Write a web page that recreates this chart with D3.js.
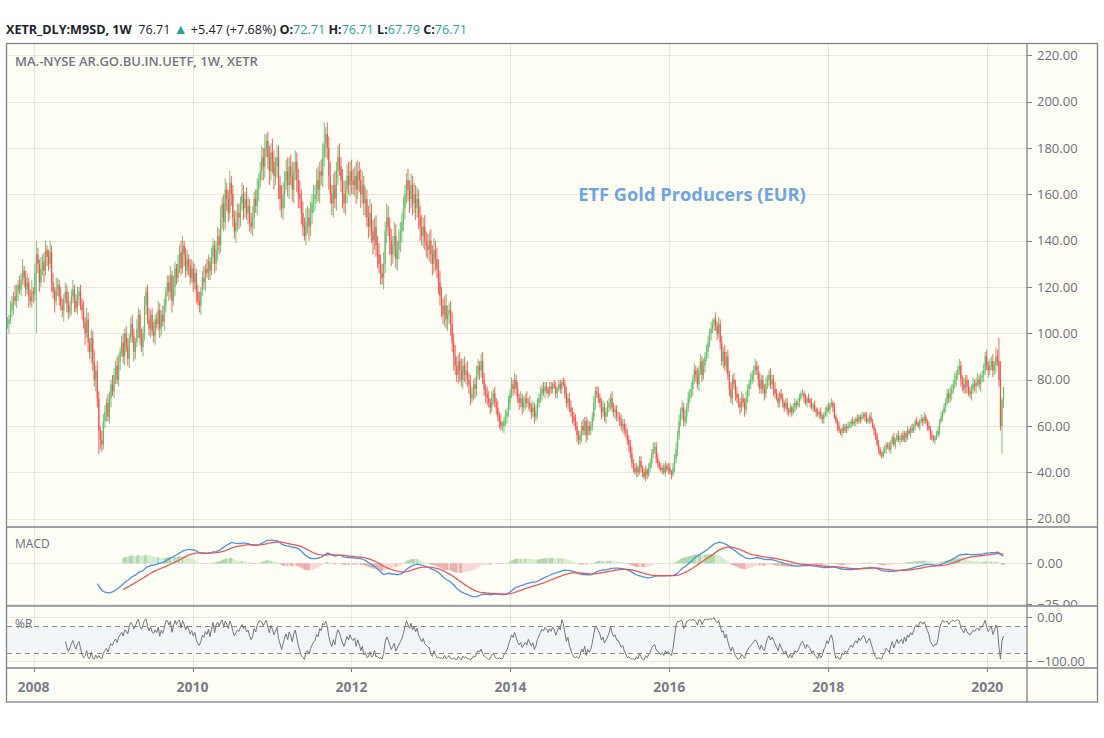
<!DOCTYPE html>
<html><head><meta charset="utf-8">
<script src="https://cdn.jsdelivr.net/npm/d3@7"></script>
<style>html,body{margin:0;padding:0;background:#fff;}svg{display:block;font-family:"Open Sans",sans-serif;}</style>
</head><body><svg id="c" width="1104" height="738"></svg>
<script>
// ---------------- DATA ----------------
const firstWeek = "2007-09-03";      // Monday of the first weekly bar
const macdFrom = "2007-09-03";       // MACD computed from this bar on
const wrFrom = "2007-11-05";         // %R computed from this bar on
const closes = [
104,106,110,113,116,114,118,121,119,123,127,124,119,122,116,114,118,117,
126,134,130,122,128,131,127,136,133,130,135,
122,118,114,119,121,116,112,110,115,118,113,109,112,116,119,114,111,116,118,112,
110,105,100,106,96,92,98,88,80,84,72,58,54,52,62,
66,70,64,72,78,75,82,86,80,88,92,
96,90,100,94,89,98,104,99,92,96,102,108,98,94,100,
112,118,106,102,108,101,99,106,104,110,102,108,105,112,118,122,
118,125,114,120,128,124,130,135,128,138,134,127,132,129,124,128,
122,126,118,114,112,118,124,122,128,126,131,127,133,138,130,136,
142,138,150,156,148,162,158,152,165,160,150,144,148,152,
150,156,160,154,158,152,155,148,146,150,158,155,162,166,170,
176,172,180,183,176,170,178,174,168,172,176,
164,158,154,160,166,170,164,172,168,162,170,174,166,160,158,
152,146,142,148,150,146,152,156,158,
160,166,162,170,168,176,182,186,180,
168,160,156,164,158,170,176,172,166,160,156,162,168,164,170,166,
164,168,162,170,166,160,164,156,158,150,146,152,144,140,146,138,134,130,126,
124,130,144,150,146,140,134,138,142,132,136,140,144,
148,154,160,166,162,158,164,156,160,154,158,150,146,
142,146,140,138,136,140,134,130,136,132,128,
122,116,112,108,112,106,108,110,104,96,90,
86,82,88,84,80,86,82,84,80,
78,72,74,78,76,82,86,84,88,80,76,74,72,
70,68,72,74,70,68,64,62,60,60,
62,64,66,70,74,78,76,80,76,72,70,72,68,70,72,70,
70,68,66,68,64,66,70,72,74,76,75,77,
76,74,77,76,78,77,74,76,78,76,79,78,
74,70,72,68,66,64,62,60,56,54,
56,60,58,62,56,60,58,60,
64,70,75,74,72,
70,66,68,64,66,68,70,72,68,66,67,64,
64,62,60,61,58,57,54,52,48,44,42,
40,42,40,45,42,40,38,41,39,42,44,
48,50,51,46,44,42,
41,42,40,43,41,42,40,39,42,
46,50,56,62,66,68,62,64,68,72,74,
76,80,84,82,78,84,88,82,86,90,92,
96,100,102,104,106,103,100,104,96,88,92,86,90,
82,76,72,80,78,74,72,
70,68,72,70,67,72,76,
78,80,82,84,86,84,80,76,80,
76,74,78,80,82,78,80,76,74,
72,70,74,72,70,68,70,67,66,
68,66,68,70,69,70,72,74,
74,72,70,72,71,70,68,69,67,66,65,66,64,63,
65,66,68,67,69,70,68,64,
62,60,58,57,59,58,60,59,60,61,62,61,62,
63,62,64,63,64,65,64,62,63,64,62,60,58,
56,52,50,48,47,49,
50,52,51,50,53,55,52,54,56,54,55,
56,54,57,55,58,57,59,58,60,62,61,60,62,
63,62,64,62,60,59,
56,55,54,55,56,
58,62,64,66,68,70,74,
72,74,76,78,80,82,84,86,80,
78,76,80,77,75,74,76,78,77,79,80,78,81,
82,84,90,86,84,86,88,84,86,90,88,
80,60,71.24,76.71
];
// extension of the high above the body, per week
const wickUp = [
3,2,4,3,2,5,3,2,4,3,5,2,3,4,2,3,5,2,
4,6,3,2,5,3,4,4,2,3,5,
3,4,2,5,3,2,4,3,2,4,3,5,2,3,4,2,3,4,2,3,
3,4,2,5,3,2,4,3,5,2,4,3,2,4,3,
3,2,4,3,2,4,3,2,4,3,2,
3,4,2,3,4,2,3,4,3,2,4,3,2,4,3,
4,2,3,5,2,3,4,2,3,4,3,2,4,3,2,3,
3,4,2,5,3,2,4,3,5,4,2,3,4,2,3,4,
3,4,2,3,4,2,3,5,2,4,3,2,4,3,2,4,
4,3,5,3,4,5,3,4,5,3,4,3,5,4,
4,3,5,4,3,5,4,3,4,5,3,4,5,3,4,
5,4,6,3,4,5,4,6,5,4,5,
5,4,6,5,4,5,6,4,5,6,4,5,4,5,6,
4,5,4,6,5,4,5,4,6,
4,5,6,4,5,6,9,3,5,
5,6,4,5,6,4,5,6,4,5,6,4,5,6,4,5,
5,4,6,5,4,5,6,4,5,4,5,6,4,5,4,5,4,5,4,
4,5,4,6,5,4,5,4,6,5,4,5,4,
4,5,4,3,5,4,5,4,5,4,5,4,5,
5,4,5,4,5,4,5,4,5,4,5,
4,5,4,3,4,5,4,3,4,5,4,
5,4,3,4,5,3,4,3,4,
3,4,3,2,3,4,3,2,3,4,3,2,3,
3,2,3,2,3,2,3,2,3,2,
2,3,2,3,2,3,2,3,2,3,2,3,2,3,2,3,
2,3,2,3,2,3,2,2,3,2,3,2,
2,1,2,2,1,2,2,1,2,2,1,2,
2,3,2,2,3,2,2,3,2,2,
2,2,3,2,2,3,2,2,
2,3,2,2,3,
2,2,3,2,2,3,2,2,3,2,2,2,
2,2,3,2,2,3,2,2,2,3,2,
2,2,1,2,2,1,2,2,1,2,2,
2,3,2,2,2,1,
2,1,2,2,1,2,2,1,2,
2,3,2,3,2,3,2,3,2,3,2,
3,2,3,2,3,2,3,2,3,2,3,
3,2,3,2,1,3,2,3,2,3,2,3,2,
3,2,3,2,3,2,3,
2,2,3,2,2,3,2,
2,3,2,2,3,2,2,3,2,
2,2,3,2,2,3,2,2,3,
2,2,1,2,2,1,2,2,1,
2,1,2,2,1,2,2,1,
2,1,2,1,2,1,2,1,2,1,2,1,2,1,
1,2,1,2,1,2,1,2,
1,1,2,1,1,2,1,1,2,1,1,2,1,
1,2,1,1,2,1,1,2,1,1,2,1,1,
1,1,2,1,1,2,
2,1,1,2,1,1,2,1,1,2,1,
1,2,1,1,2,1,1,2,1,1,2,1,1,
2,1,2,1,1,2,
1,2,1,1,2,
2,1,2,1,2,2,2,
2,3,2,2,3,2,2,3,2,
2,3,2,2,3,2,2,3,2,2,3,2,2,
2,3,2,3,2,3,2,3,2,4,3,
10,8,1,0
];
// extension of the low below the body, per week
const wickDown = [
2,4,2,3,5,2,3,4,2,3,2,4,3,2,5,2,3,4,
3,26,4,4,2,3,5,2,4,3,2,
4,3,5,2,3,4,2,3,5,2,4,3,2,4,3,5,2,3,4,2,
4,3,5,2,4,3,5,4,3,5,4,10,4,3,2,
3,4,2,3,4,2,3,4,2,3,4,
2,3,4,2,3,4,2,3,4,3,2,4,3,2,4,
3,4,2,3,4,2,3,4,2,3,4,3,2,4,3,2,
4,3,5,2,4,3,2,4,3,2,5,3,2,4,3,2,
4,3,5,2,3,4,2,3,4,2,3,4,2,3,4,3,
5,4,3,5,4,3,5,4,3,5,4,3,5,4,
5,4,3,5,4,3,5,4,3,4,5,3,4,5,3,
4,6,5,4,5,6,4,5,6,4,5,
6,5,4,5,6,4,5,6,4,5,6,4,5,6,4,
5,4,2,4,5,6,4,5,4,
5,4,5,6,4,5,4,6,5,
6,4,5,6,4,5,6,4,5,6,4,5,6,4,5,6,
4,5,6,4,5,6,4,5,6,4,5,4,5,6,4,5,6,4,5,
3,5,4,5,4,6,5,4,5,4,5,4,5,
5,4,5,4,5,6,4,5,4,5,4,5,6,
4,5,4,5,4,5,4,5,4,5,4,
5,4,5,4,5,4,5,4,5,4,6,
4,3,4,5,3,4,3,4,3,
4,3,2,3,4,3,2,4,3,2,3,4,3,
2,3,2,3,2,3,2,3,2,2,
3,2,3,2,3,2,3,2,3,2,3,2,3,2,3,2,
3,2,3,2,3,2,3,2,2,3,2,3,
2,2,1,2,2,1,2,2,1,2,2,1,
2,2,3,2,2,3,2,2,3,2,
2,3,2,2,3,2,2,2,
2,2,3,2,2,
2,3,2,2,3,2,2,3,2,2,3,2,
2,2,2,3,2,2,2,3,2,2,2,
1,2,2,1,2,2,1,2,2,1,2,
2,2,2,2,2,1,
1,2,1,2,1,2,1,2,1,
2,2,3,2,2,3,2,2,3,2,2,
2,3,2,3,2,3,2,3,2,3,2,
3,2,3,2,3,2,3,2,3,2,3,2,3,
2,3,2,3,2,3,2,
2,3,2,2,3,2,2,
3,2,2,3,2,2,3,2,2,
2,3,2,2,3,2,2,3,2,
1,2,2,1,2,2,1,2,2,
1,2,1,2,2,1,2,1,
1,2,1,2,1,2,1,2,1,2,1,2,1,2,
2,1,2,1,2,1,2,1,
1,2,1,1,2,1,1,2,1,1,2,1,1,
2,1,1,2,1,1,2,1,1,2,1,1,2,
2,1,2,1,1,1,
1,2,1,1,2,1,1,2,1,1,2,
2,1,1,2,1,1,2,1,1,2,1,1,2,
1,2,1,1,2,1,
2,1,1,2,1,
1,2,1,2,1,2,1,
2,2,3,2,2,3,2,2,3,
3,2,2,3,2,2,3,2,2,3,2,2,3,
2,3,2,2,3,2,2,3,2,3,2,
3,2,12,3.45
];
const priceTicks = [20,40,60,80,100,120,140,160,180,200,220];
const macdTicks = [0,-25];
const wrTicks = [0,-100];
const wrLevels = [-20,-80];
const macdFast = 26, macdSlow = 60, macdSignal = 18;
const wrLength = 30;
const headerSymbol = "XETR_DLY:M9SD, 1W";
const headerLast = "76.71";
const headerChange = "+5.47 (+7.68%)";
const ohlcLabels = ["O:","H:","L:","C:"];
const ohlcValues = ["72.71","76.71","67.79","76.71"];
const legendText = "MA.-NYSE AR.GO.BU.IN.UETF, 1W, XETR";
const titleText = "ETF Gold Producers (EUR)";

// ---------------- LAYOUT ----------------
const svg = d3.select("#c");
const L = 7, R = 1027, FR = 1097.5, FT = 43.5, FB = 702;
const P = {t: 43.5, b: 527}, M = {t: 527, b: 606}, WRp = {t: 606, b: 668};
const C = {bg:"#fffef5", grid:"#e7e7e4", border:"#7f828b", text:"#6d707a", dark:"#1e222d",
  teal:"#26a69a", up:"#66bb6a", down:"#ef5350", blue:"#4893e6", sig:"#e8585a"};

const DAY = 864e5;
const t0 = new Date(firstWeek + "T00:00:00Z");
const bars = closes.map((c, i) => {
  const o = i ? closes[i-1] : c;
  return {date: new Date(+t0 + i*7*DAY), o, c,
    h: Math.max(o, c) + wickUp[i], l: Math.min(o, c) - wickDown[i]};
});

const x = d3.scaleUtc().domain([new Date(Date.UTC(2007,8,1)), new Date(Date.UTC(2020,6,2))]).range([L, R]);
const y = d3.scaleLinear().domain([20,220]).range([518.7,55.3]);
const ym = d3.scaleLinear().domain([-25,0]).range([604,563.3]);
const yw = d3.scaleLinear().domain([-100,0]).range([661.3,617.3]);

// ---------------- INDICATORS ----------------
const kM = bars.findIndex(b => b.date >= new Date(macdFrom + "T00:00:00Z"));
const kW = bars.findIndex(b => b.date >= new Date(wrFrom + "T00:00:00Z"));
function ema(arr, n) {
  const out = arr.map(() => null); let s = 0, cnt = 0, prev = null; const a = 2/(n+1);
  arr.forEach((v, i) => {
    if (v == null) return;
    if (prev === null) { s += v; cnt++; if (cnt === n) { prev = s/n; out[i] = prev; } }
    else { prev = a*v + (1-a)*prev; out[i] = prev; }
  });
  return out;
}
const src = bars.map((b, i) => i >= kM ? b.c : null);
const ef = ema(src, macdFast), es = ema(src, macdSlow);
const macd = bars.map((b, i) => (ef[i] != null && es[i] != null) ? ef[i] - es[i] : null);
const sig = ema(macd, macdSignal);
const hist = bars.map((b, i) => (macd[i] != null && sig[i] != null) ? macd[i] - sig[i] : null);
const wr = bars.map((b, i) => {
  if (i < kW + wrLength - 1) return null;
  const win = bars.slice(i - wrLength + 1, i + 1);
  const hh = d3.max(win, d => d.h), ll = d3.min(win, d => d.l);
  return (hh - b.c) / (hh - ll) * -100;
});

// ---------------- FRAME ----------------
svg.append("rect").attr("x", 6.5).attr("y", FT).attr("width", FR - 6.5).attr("height", FB - FT).attr("fill", C.bg);
const defs = svg.append("defs");
[["cp", P], ["cm", M], ["cw", WRp]].forEach(([id, p]) => {
  defs.append("clipPath").attr("id", id).append("rect").attr("x", L).attr("y", p.t).attr("width", R - L).attr("height", p.b - p.t);
  defs.append("clipPath").attr("id", id + "a").append("rect").attr("x", R).attr("y", p.t + 1).attr("width", FR - R).attr("height", p.b - p.t - 1);
});

const years = x.ticks(d3.utcYear.every(2));
svg.append("g").selectAll("line").data(years).join("line")
  .attr("x1", d => Math.round(x(d)) + 0.5).attr("x2", d => Math.round(x(d)) + 0.5)
  .attr("y1", FT).attr("y2", WRp.b).attr("stroke", C.grid);
svg.append("g").selectAll("line").data(priceTicks).join("line")
  .attr("x1", L).attr("x2", R).attr("y1", d => Math.round(y(d)) + 0.5).attr("y2", d => Math.round(y(d)) + 0.5).attr("stroke", C.grid);
svg.append("g").attr("clip-path", "url(#cm)").selectAll("line").data(macdTicks).join("line")
  .attr("x1", L).attr("x2", R).attr("y1", d => Math.round(ym(d)) + 0.5).attr("y2", d => Math.round(ym(d)) + 0.5).attr("stroke", C.grid);
svg.append("g").selectAll("line").data(wrTicks).join("line")
  .attr("x1", L).attr("x2", R).attr("y1", d => Math.round(yw(d)) + 0.5).attr("y2", d => Math.round(yw(d)) + 0.5).attr("stroke", C.grid);

// ---------------- CANDLES ----------------
const gc = svg.append("g").attr("clip-path", "url(#cp)");
gc.selectAll("line").data(bars).join("line")
  .attr("x1", d => x(d.date)).attr("x2", d => x(d.date))
  .attr("y1", d => y(d.h)).attr("y2", d => y(d.l))
  .attr("stroke", d => d.c >= d.o ? C.up : C.down).attr("stroke-width", 0.9);
gc.selectAll("rect").data(bars).join("rect")
  .attr("x", d => x(d.date) - 0.6).attr("width", 1.2)
  .attr("y", d => y(Math.max(d.o, d.c))).attr("height", d => Math.max(0.8, Math.abs(y(d.o) - y(d.c))))
  .attr("fill", d => d.c >= d.o ? C.up : C.down);

// ---------------- MACD ----------------
const gm = svg.append("g").attr("clip-path", "url(#cm)");
const bw = x(new Date(+t0 + 7*DAY)) - x(t0);
const hd = bars.map((b, i) => ({date: b.date, v: hist[i], p: i ? hist[i-1] : null})).filter(d => d.v != null);
gm.selectAll("rect").data(hd).join("rect")
  .attr("x", d => x(d.date) - bw/2).attr("width", bw + 0.1)
  .attr("y", d => Math.min(ym(0), ym(d.v))).attr("height", d => Math.abs(ym(d.v) - ym(0)))
  .attr("fill", d => {
    const grow = d.p == null || Math.abs(d.v) >= Math.abs(d.p);
    return d.v >= 0 ? (grow ? "#a9d7a4" : "#d3ebcf") : (grow ? "#eaaaa7" : "#f7d6d4");
  });
const lineM = d3.line().defined(d => d[1] != null).x(d => x(d[0])).y(d => ym(d[1]));
gm.append("path").attr("d", lineM(bars.map((b, i) => [b.date, macd[i]]))).attr("fill", "none").attr("stroke", C.blue).attr("stroke-width", 1.3);
gm.append("path").attr("d", lineM(bars.map((b, i) => [b.date, sig[i]]))).attr("fill", "none").attr("stroke", C.sig).attr("stroke-width", 1.3);

// ---------------- %R ----------------
const gw = svg.append("g").attr("clip-path", "url(#cw)");
gw.append("rect").attr("x", L).attr("width", R - L).attr("y", yw(wrLevels[0])).attr("height", yw(wrLevels[1]) - yw(wrLevels[0])).attr("fill", "#f2f5f5");
gw.selectAll("line.lv").data(wrLevels).join("line").attr("class", "lv")
  .attr("x1", L).attr("x2", R).attr("y1", d => Math.round(yw(d)) + 0.5).attr("y2", d => Math.round(yw(d)) + 0.5)
  .attr("stroke", "#8a8d94").attr("stroke-dasharray", "5,4");
gw.append("path").attr("d", d3.line().defined(d => d[1] != null).x(d => x(d[0])).y(d => yw(d[1]))(bars.map((b, i) => [b.date, wr[i]])))
  .attr("fill", "none").attr("stroke", "#74767c").attr("stroke-width", 1);

// ---------------- AXES ----------------
const fmt = d3.format(".2f");
const minus = v => fmt(v).replace("-", "\u2212");
function rightAxis(ticks, sc, clip) {
  const g = svg.append("g").attr("clip-path", `url(#${clip})`);
  g.selectAll("line").data(ticks).join("line").attr("x1", R).attr("x2", R + 5)
    .attr("y1", d => Math.round(sc(d)) + 0.5).attr("y2", d => Math.round(sc(d)) + 0.5).attr("stroke", C.border);
  g.selectAll("text").data(ticks).join("text").attr("x", R + 10).attr("y", d => sc(d)).attr("dy", "0.36em")
    .attr("font-size", 13).attr("fill", C.text).text(minus);
}
rightAxis(priceTicks, y, "cpa");
rightAxis(macdTicks, ym, "cma");
rightAxis(wrTicks, yw, "cwa");
const gx = svg.append("g");
gx.selectAll("line").data(years).join("line")
  .attr("x1", d => Math.round(x(d)) + 0.5).attr("x2", d => Math.round(x(d)) + 0.5).attr("y1", WRp.b).attr("y2", WRp.b + 4).attr("stroke", C.border);
gx.selectAll("text").data(years).join("text").attr("x", d => x(d)).attr("y", 692)
  .attr("text-anchor", "middle").attr("font-size", 14).attr("font-weight", 700).attr("fill", "#7b7e88").text(d3.utcFormat("%Y"));

const bd = svg.append("g").attr("stroke", C.border).attr("stroke-width", 1.3).attr("fill", "none");
bd.append("rect").attr("x", 6.5).attr("y", FT).attr("width", FR - 6.5).attr("height", FB - FT);
bd.append("line").attr("x1", R).attr("x2", R).attr("y1", FT).attr("y2", FB);
[P.b, M.b, WRp.b].forEach(v => bd.append("line").attr("x1", 6.5).attr("x2", FR).attr("y1", v).attr("y2", v));

// ---------------- TEXTS ----------------
const hdr = svg.append("text").attr("x", 6).attr("y", 34).attr("font-size", 12.6).attr("fill", C.dark).attr("xml:space", "preserve");
hdr.append("tspan").attr("font-weight", 700).text(headerSymbol);
hdr.append("tspan").text("  " + headerLast + " ");
hdr.append("tspan").attr("fill", C.teal).attr("font-size", 14).text("\u25B2");
hdr.append("tspan").text(" " + headerChange + " ");
ohlcLabels.forEach((lab, i) => {
  hdr.append("tspan").attr("font-weight", 700).text(lab);
  hdr.append("tspan").attr("fill", C.teal).text(ohlcValues[i] + (i < 3 ? " " : ""));
});
svg.append("text").attr("x", 15).attr("y", 65.5).attr("font-size", 13).attr("font-weight", 600).attr("fill", "#73767f").text(legendText);
svg.append("text").attr("x", 15).attr("y", 548).attr("font-size", 12).attr("fill", C.text).text("MACD");
svg.append("text").attr("x", 15).attr("y", 627.5).attr("font-size", 12).attr("fill", C.text).text("%R");
svg.append("text").attr("x", 692).attr("y", 201).attr("text-anchor", "middle").attr("font-size", 18.3).attr("font-weight", 700).attr("fill", "#6ea6dd").text(titleText);
</script></body></html>
